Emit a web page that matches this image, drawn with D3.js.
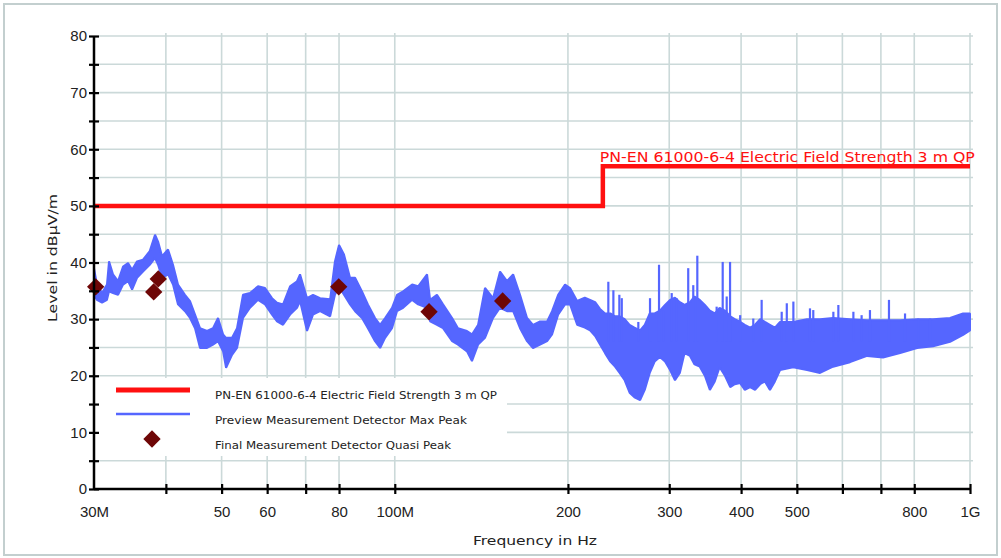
<!DOCTYPE html>
<html>
<head>
<meta charset="utf-8">
<script src="https://cdn.jsdelivr.net/npm/d3@7"></script>
<style>
  body { margin: 0; background: #ffffff; }
  svg { display: block; }
  .tick text { font-family: "Liberation Sans", Arial, sans-serif; font-size: 15px; fill: #222; }
  .legendText { font-family: "DejaVu Sans", sans-serif; font-size: 10px; fill: #222; }
</style>
</head>
<body>
<script>
// Preview trace (max peak): frequency in MHz, lower and upper level in dBuV/m
var traceFreq = [30.0, 30.36, 30.98, 31.6, 31.86, 32.37, 33.03, 33.7, 34.38, 34.94,
  35.64, 36.5, 37.5, 38.3, 38.77, 39.4, 40.35, 41.16, 41.99, 43.18,
  44.06, 44.95, 45.86, 47.17, 48.31, 49.29, 50.29, 50.9, 52.13, 53.18,
  54.47, 56.02, 57.84, 59.49, 61.18, 62.42, 63.94, 65.76, 67.62, 68.44,
  70.38, 72.09, 74.15, 77.2, 78.7, 80.0, 81.6, 83.6, 85.3, 87.7,
  89.8, 92.4, 94.3, 96.2, 98.9, 100.9, 103.4, 107.2, 109.8, 113.8,
  115.2, 118.4, 121.3, 125.8, 128.8, 133.5, 136.2, 139.6, 143.5, 148.2,
  152.4, 156.7, 160.6, 165.1, 169.8, 173.9, 178.9, 184.0, 187.7, 192.3,
  197.7, 201.7, 207.5, 214, 218.5, 223, 227.4, 232, 237, 241.5,
  246, 251, 256, 261, 267, 272, 277.5, 283, 289, 295,
  301, 307, 313, 319, 326, 332, 339, 346, 353, 360,
  367, 375, 383, 390, 398.5, 406, 414.7, 423, 431.6, 440,
  449, 458, 467.5, 492.6, 520.8, 548.6, 578, 618.6, 662.4, 706,
  756, 809.2, 862.5, 923.2, 972.7, 1000];
var traceLo = [34.3, 33.4, 32.9, 33.4, 34.9, 34.6, 34.3, 36.1, 36.7, 35.2,
  37.3, 38.4, 39.6, 40.8, 39.6, 37.3, 37.9, 36.1, 32.6, 31.4,
  30.2, 28.4, 24.9, 24.9, 25.5, 26.1, 24.3, 21.4, 23.7, 24.9,
  30.2, 32.0, 33.4, 32.6, 30.8, 29.6, 29.0, 30.8, 32.0, 33.2,
  27.9, 30.8, 31.4, 30.5, 34.3, 35.8, 34.3, 32.6, 31.4, 30.2,
  28.4, 26.1, 24.9, 26.7, 28.4, 31.4, 32.0, 33.4, 32.6, 32.0,
  29.6, 29.0, 28.4, 26.1, 25.5, 24.3, 22.6, 25.5, 26.7, 30.2,
  32.0, 31.4, 31.4, 28.4, 26.1, 24.9, 25.5, 26.1, 27.3, 30.8,
  32.6, 32.6, 29.0, 28.5, 28.0, 27.0, 25.5, 24.0, 22.5, 21.6,
  20.5, 19.2, 17.0, 16.2, 15.7, 17.5, 20.5, 22.5, 23.3, 22.5,
  21.0, 19.2, 20.5, 24.0, 23.5, 22.0, 21.6, 20.0, 17.5, 19.0,
  21.5, 20.0, 18.0, 18.5, 18.7, 17.5, 18.0, 17.5, 18.5, 19.0,
  17.5, 19.0, 21.0, 21.5, 21.0, 20.5, 21.6, 22.4, 23.5, 23.2,
  24.0, 24.9, 25.2, 26.0, 27.2, 28.0];
var traceHi = [39.0, 36.1, 34.6, 36.1, 40.2, 37.9, 36.7, 39.3, 39.9, 38.7,
  40.2, 40.5, 42.0, 44.9, 43.7, 41.1, 42.3, 39.6, 36.1, 34.3,
  33.2, 30.8, 28.4, 27.9, 28.4, 30.2, 27.3, 26.7, 26.7, 28.4,
  34.3, 34.6, 35.8, 35.5, 33.7, 32.9, 32.6, 35.8, 36.7, 37.9,
  33.7, 34.3, 33.7, 33.5, 40.2, 43.1, 41.4, 37.3, 37.3, 34.9,
  32.6, 30.2, 29.0, 30.2, 32.0, 34.3, 34.9, 36.1, 35.8, 37.9,
  33.4, 34.3, 32.6, 30.2, 28.4, 27.9, 27.3, 29.0, 35.5, 33.7,
  38.4, 36.7, 37.9, 34.3, 30.2, 29.0, 29.6, 29.6, 31.4, 34.3,
  36.1, 35.5, 33.2, 33.8, 33.4, 33.0, 31.8, 31.0, 31.0, 30.5,
  30.5, 30.0, 29.0, 28.5, 28.0, 29.0, 31.0, 31.0, 31.5, 32.5,
  33.4, 33.8, 33.0, 32.5, 33.0, 34.0, 33.4, 32.5, 31.5, 31.0,
  32.0, 31.5, 30.5, 30.0, 29.5, 29.0, 28.5, 29.0, 30.0, 29.5,
  29.0, 28.5, 29.5, 29.5, 30.0, 30.0, 30.2, 30.0, 29.8, 29.8,
  29.8, 30.0, 30.0, 30.2, 31.0, 31.0];

// single spikes that stand out above the band
var spikeFreq = [235.1, 239.9, 245.7, 248.1, 265.1, 277.8, 288, 293, 303, 309,
  323.7, 330.3, 335.7, 362.7, 371.6, 377.6, 382.7, 398.5, 420, 434.3,
  470.6, 480.3, 493.1, 527, 534, 578.7, 590.4, 627, 648, 670,
  723, 771, 813, 852];
var spikeTop = [36.6, 35.1, 34.3, 33.7, 29.5, 33.7, 39.6, 31.6, 34.6, 33.7,
  39.0, 36.0, 41.2, 32.2, 40.1, 34.0, 40.1, 30.7, 30.1, 33.4,
  31.3, 32.8, 33.1, 31.9, 31.6, 31.3, 32.5, 31.3, 30.7, 31.6,
  33.4, 31.0, 30.1, 30.1];

// final measurement (quasi peak)
var finalFreq = [30.2, 38.1, 38.8, 79.9, 114.7, 154.0];
var finalLevel = [35.7, 34.8, 37.1, 35.7, 31.3, 33.2];

// limit line PN-EN 61000-6-4, 3 m QP
var limitFreq = [30, 230, 230, 1000];
var limitLevel = [50, 50, 57, 57];

var xTicks = [40, 50, 60, 70, 80, 100, 200, 300, 400, 500, 600, 700, 800, 1000];
var xLabels = [30, 50, 60, 80, 100, 200, 300, 400, 500, 800, 1000];
var xLabelText = {30: "30M", 100: "100M", 1000: "1G"};
var yTicks = d3.range(0, 81, 5);

var legendNames = ["PN-EN 61000-6-4 Electric Field Strength 3 m QP",
  "Preview Measurement Detector Max Peak",
  "Final Measurement Detector Quasi Peak"];

var width = 1001, height = 558;
var svg = d3.select("body").append("svg").attr("width", width).attr("height", height);

var x = d3.scaleLog().domain([30, 1000]).range([94, 970]);
var y = d3.scaleLinear().domain([0, 80]).range([489, 36]);

var blue = "#5566ff", red = "#ff1010", dark = "#6e0606", gridCol = "#cbd9d9";

// outer frame
svg.append("rect").attr("x", 4).attr("y", 4).attr("width", 993).attr("height", 551)
  .attr("fill", "none").attr("stroke", "#c3cfcf").attr("stroke-width", 2);

// grid
svg.append("g").selectAll("line").data(yTicks.filter(d => d > 0)).join("line")
  .attr("x1", 99).attr("x2", 973).attr("y1", d => y(d)).attr("y2", d => y(d))
  .attr("stroke", gridCol).attr("stroke-width", 1.6);
svg.append("g").selectAll("line").data(xTicks).join("line")
  .attr("x1", d => x(d)).attr("x2", d => x(d)).attr("y1", 33).attr("y2", 484)
  .attr("stroke", gridCol).attr("stroke-width", 1.6);

// limit line
var limit = d3.range(limitFreq.length).map(i => [limitFreq[i], limitLevel[i]]);
svg.append("path").datum(limit)
  .attr("d", d3.line().x(d => x(d[0])).y(d => y(d[1])))
  .attr("fill", "none").attr("stroke", red).attr("stroke-width", 4.5);

svg.append("text").attr("x", x(230) - 3).attr("y", 162)
  .attr("textLength", 375).attr("lengthAdjust", "spacingAndGlyphs")
  .style("font-family", "DejaVu Sans, sans-serif").style("font-size", "13.5px").attr("fill", red)
  .text(legendNames[0]);

// preview trace band
var band = d3.range(traceFreq.length).map(i => [traceFreq[i], traceLo[i], traceHi[i]]);
svg.append("path").datum(band)
  .attr("d", d3.area().x(d => x(d[0])).y0(d => y(d[1])).y1(d => y(d[2])))
  .attr("fill", blue).attr("stroke", blue).attr("stroke-width", 2).attr("stroke-linejoin", "bevel");

// spikes
var spikes = d3.range(spikeFreq.length).map(i => [spikeFreq[i], spikeTop[i]]);
svg.append("g").selectAll("line").data(spikes).join("line")
  .attr("x1", d => x(d[0])).attr("x2", d => x(d[0]))
  .attr("y1", d => y(d[1])).attr("y2", y(26))
  .attr("stroke", blue).attr("stroke-width", 2.2);

// final measurement points
var diamond = d3.symbol().type(d3.symbolSquare).size(150);
svg.append("g").selectAll("path").data(d3.range(finalFreq.length)).join("path")
  .attr("d", diamond)
  .attr("transform", i => "translate(" + x(finalFreq[i]) + "," + y(finalLevel[i]) + ") rotate(45)")
  .attr("fill", dark);

// legend
var lg = svg.append("g");
lg.append("rect").attr("x", 99).attr("y", 378).attr("width", 408).attr("height", 78).attr("fill", "#fff");
lg.append("line").attr("x1", 116).attr("x2", 190).attr("y1", 390).attr("y2", 390)
  .attr("stroke", red).attr("stroke-width", 5);
lg.append("line").attr("x1", 116).attr("x2", 190).attr("y1", 414).attr("y2", 414)
  .attr("stroke", blue).attr("stroke-width", 2.5);
lg.append("path").attr("d", diamond).attr("transform", "translate(152,439) rotate(45)").attr("fill", dark);
lg.selectAll("text.legendText").data(legendNames).join("text").attr("class", "legendText")
  .attr("x", 215).attr("y", (d, i) => 399 + i * 25)
  .attr("textLength", (d, i) => [282, 252, 236][i]).attr("lengthAdjust", "spacingAndGlyphs")
  .text(d => d);

// axes
var yAxis = svg.append("g").attr("transform", "translate(94,0)")
  .call(d3.axisLeft(y).tickValues(yTicks).tickSize(5).tickPadding(2)
    .tickFormat(d => d % 10 === 0 ? d : ""));
yAxis.selectAll(".tick line").attr("x1", 5).attr("stroke-width", 2.2);
yAxis.select(".domain").attr("stroke-width", 2.5).attr("d", "M0,36V489");

var xAxis = svg.append("g").attr("transform", "translate(0,489)")
  .call(d3.axisBottom(x).tickValues(xTicks).tickSize(5).tickFormat(""));
xAxis.selectAll(".tick line").attr("y1", -5).attr("stroke-width", 2.2);
xAxis.select(".domain").attr("stroke-width", 2.5).attr("d", "M94,0H970");

svg.append("g").attr("transform", "translate(0,489)")
  .call(d3.axisBottom(x).tickValues(xLabels).tickSize(0).tickPadding(17)
    .tickFormat(d => xLabelText[d] || d))
  .call(g => g.select(".domain").remove());

// axis titles
svg.append("text").attr("transform", "translate(57,258) rotate(-90)")
  .attr("text-anchor", "middle").attr("textLength", 128).attr("lengthAdjust", "spacingAndGlyphs")
  .style("font-family", "DejaVu Sans, sans-serif").style("font-size", "12px").attr("fill", "#222")
  .text("Level in dB\u00b5V/m");
svg.append("text").attr("x", 535).attr("y", 545)
  .attr("text-anchor", "middle").attr("textLength", 124).attr("lengthAdjust", "spacingAndGlyphs")
  .style("font-family", "DejaVu Sans, sans-serif").style("font-size", "12px").attr("fill", "#222")
  .text("Frequency in Hz");
</script>
</body>
</html>
